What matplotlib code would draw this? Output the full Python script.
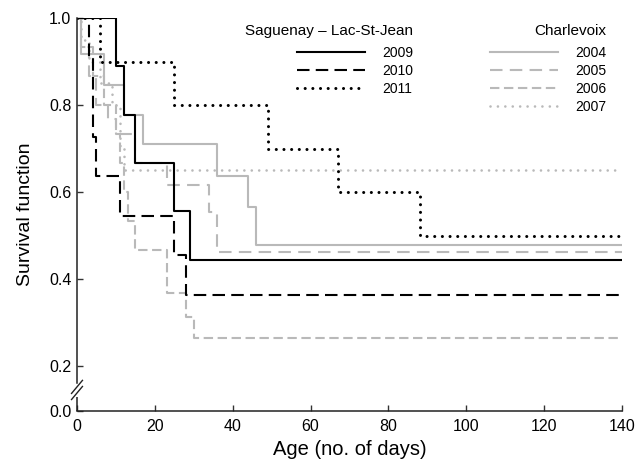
import matplotlib
matplotlib.use('Agg')
import matplotlib.pyplot as plt
from matplotlib.lines import Line2D

plt.rcParams['font.family'] = ['Liberation Sans', 'DejaVu Sans']

# ---------------- data ----------------
max_day = 140

sag_title = 'Saguenay – Lac-St-Jean'
sag_years = ['2009', '2010', '2011']
t_2009 = [0, 10, 12, 15, 25, 29]
s_2009 = [1.0, 0.889, 0.778, 0.667, 0.556, 0.444]
t_2010 = [0, 3, 4, 5, 11, 25, 28]
s_2010 = [1.0, 0.909, 0.727, 0.636, 0.545, 0.455, 0.364]
t_2011 = [0, 6, 25, 49, 67, 88]
s_2011 = [1.0, 0.9, 0.8, 0.7, 0.6, 0.5]

cha_title = 'Charlevoix'
cha_years = ['2004', '2005', '2006', '2007']
t_2004 = [0, 1, 7, 12, 17, 36, 44, 46]
s_2004 = [1.0, 0.917, 0.846, 0.777, 0.71, 0.636, 0.565, 0.478]
t_2005 = [0, 1, 3, 5, 8, 10, 15, 23, 34, 36]
s_2005 = [1.0, 0.933, 0.867, 0.8, 0.767, 0.733, 0.667, 0.616, 0.554, 0.463]
t_2006 = [0, 1, 4, 7, 10, 11, 12, 13, 15, 23, 28, 30]
s_2006 = [1.0, 0.933, 0.867, 0.8, 0.733, 0.667, 0.6, 0.533, 0.467, 0.367, 0.313, 0.264]
t_2007 = [0, 1, 3, 6, 9, 11, 12]
s_2007 = [1.0, 0.95, 0.9, 0.85, 0.8, 0.7, 0.65]

x_ticks = [0, 20, 40, 60, 80, 100, 120, 140]
y_ticks = [0.2, 0.4, 0.6, 0.8, 1.0]
y_tick_labels = ['0.2', '0.4', '0.6', '0.8', '1.0']

# ---------------- styles ----------------
BLACK = '#000000'
GRAY = '#b9b9b9'
styles = {
    '2009': dict(color=BLACK, lw=1.5, linestyle='-'),
    '2010': dict(color=BLACK, lw=1.5, linestyle=(0, (6, 3))),
    '2011': dict(color=BLACK, lw=2.2, linestyle=(0, (0.01, 2.5)), dash_capstyle='round'),
    '2004': dict(color=GRAY, lw=1.5, linestyle='-'),
    '2005': dict(color=GRAY, lw=1.5, linestyle=(0, (6, 3.5))),
    '2006': dict(color=GRAY, lw=1.5, linestyle=(0, (4.5, 2.2))),
    '2007': dict(color=GRAY, lw=1.9, linestyle=(0, (0.01, 2.8)), dash_capstyle='round'),
}
series = {
    '2004': (t_2004, s_2004), '2005': (t_2005, s_2005),
    '2006': (t_2006, s_2006), '2007': (t_2007, s_2007),
    '2009': (t_2009, s_2009), '2010': (t_2010, s_2010),
    '2011': (t_2011, s_2011),
}

W, H = 644, 465
fig = plt.figure(figsize=(W / 100, H / 100), dpi=100)
ax = fig.add_axes([77 / W, 1 - 411 / H, 545 / W, 393 / H])

y_floor = 0.0966  # broken axis: bottom of axis labelled 0.0

for year in cha_years + sag_years:
    t, s = series[year]
    ax.step(list(t) + [max_day], list(s) + [s[-1]], where='post', **styles[year])

ax.set_xlim(0, max_day)
ax.set_ylim(y_floor, 1.0)
ax.set_xticks(x_ticks)
ax.set_yticks([y_floor] + y_ticks)
ax.set_yticklabels(['0.0'] + y_tick_labels)
ax.tick_params(axis='both', direction='in', length=4, width=1.0, labelsize=11.5, color='#333333')
ax.tick_params(axis='x', pad=6)
ax.tick_params(axis='y', pad=4)

for side in ['top', 'right']:
    ax.spines[side].set_visible(False)
for side in ['left', 'bottom']:
    ax.spines[side].set_linewidth(1.1)
    ax.spines[side].set_color('#222222')

# axis break on the left spine
brk_lo, brk_hi = 0.128, 0.162
ax.spines['left'].set_bounds(brk_hi, 1.0)
ax.plot([0, 0], [y_floor, brk_lo], color='#222222', lw=1.1, clip_on=False,
        solid_capstyle='butt')
for yc in (0.152, 0.138):
    ax.plot([-1.4, 1.4], [yc - 0.015, yc + 0.015], color='#222222', lw=1.0, clip_on=False)

ax.set_xlabel('Age (no. of days)', fontsize=14.5, labelpad=4)
ax.set_ylabel('Survival function', fontsize=14, labelpad=11)

def handles(years):
    return [Line2D([], [], **styles[y]) for y in years]

common = dict(frameon=False, loc='upper right', bbox_transform=fig.transFigure,
              borderpad=0, borderaxespad=0, handlelength=4.9, handletextpad=1.2,
              labelspacing=0.28, fontsize=10, title_fontsize=11, alignment='right')
leg1 = ax.legend(handles(sag_years), sag_years, title=sag_title,
                 bbox_to_anchor=(413 / W, 1 - 24 / H), **common)
leg1._legend_box.sep = 6.0
ax.add_artist(leg1)
leg2 = ax.legend(handles(cha_years), cha_years, title=cha_title,
                 bbox_to_anchor=(606 / W, 1 - 24 / H), **common)
leg2._legend_box.sep = 6.0

fig.savefig('out.png', dpi=100)
